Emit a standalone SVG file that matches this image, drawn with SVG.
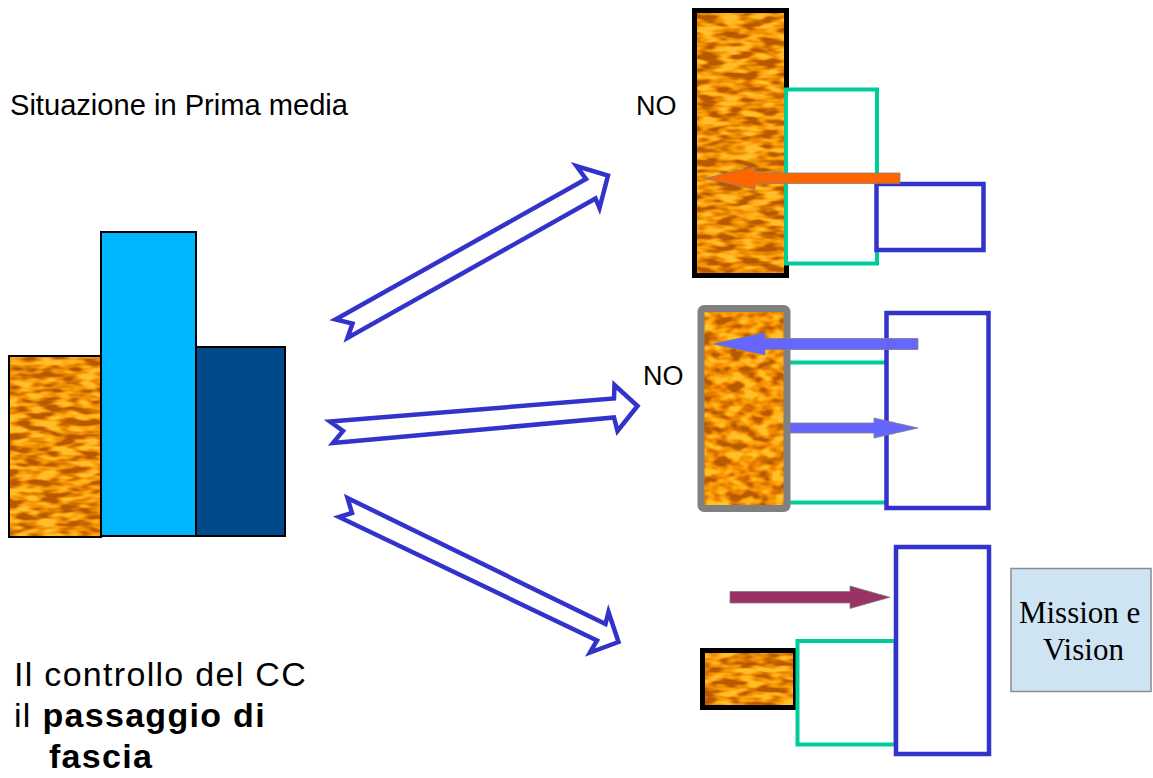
<svg xmlns="http://www.w3.org/2000/svg" width="1153" height="778" viewBox="0 0 1153 778">
  <defs>
    <!-- orange wood-like grain used to fill the textured blocks -->
    <filter id="grain" x="0" y="0" width="1" height="1" color-interpolation-filters="sRGB">
      <feTurbulence type="fractalNoise" baseFrequency="0.05 0.15" numOctaves="2" seed="7"/>
      <feColorMatrix type="matrix" values="2.8 0 0 0 -0.9  2.8 0 0 0 -0.9  2.8 0 0 0 -0.9  0 0 0 0 1"/>
      <feComponentTransfer>
        <feFuncR type="table" tableValues="0.72 0.80 0.90 0.97 1 1"/>
        <feFuncG type="table" tableValues="0.35 0.42 0.52 0.60 0.68 0.75"/>
        <feFuncB type="table" tableValues="0 0 0 0.03 0.10 0.18"/>
      </feComponentTransfer>
    </filter>
    <filter id="grain2" x="0" y="0" width="1" height="1" color-interpolation-filters="sRGB">
      <feTurbulence type="fractalNoise" baseFrequency="0.07 0.12" numOctaves="2" seed="21"/>
      <feColorMatrix type="matrix" values="2.6 0 0 0 -0.8  2.6 0 0 0 -0.8  2.6 0 0 0 -0.8  0 0 0 0 1"/>
      <feComponentTransfer>
        <feFuncR type="table" tableValues="0.72 0.84 0.93 0.98 1 1"/>
        <feFuncG type="table" tableValues="0.36 0.44 0.52 0.60 0.68 0.76"/>
        <feFuncB type="table" tableValues="0 0 0 0.02 0.08 0.16"/>
      </feComponentTransfer>
    </filter>
    <style>
      .txt { font-family: "Liberation Sans", Arial, sans-serif; fill: #000; }
      .serif { font-family: "Liberation Serif", "Times New Roman", serif; fill: #000; }
      .bar { stroke: #000; stroke-width: 2; }
      .wood { filter: url(#grain); }
      .wood2 { filter: url(#grain2); }
      .green { fill: #fff; stroke: #00cc99; stroke-width: 4; }
      .blue { fill: #fff; stroke: #3333cc; stroke-width: 4.5; }
      .block { fill: #fff; stroke: #3333cc; stroke-width: 4.5; stroke-linejoin: miter; }
      .flat { stroke: #808080; stroke-width: 0.8; }
    </style>
  </defs>

  <rect width="1153" height="778" fill="#fff"/>

  <!-- title -->
  <g id="title">
    <text class="txt" x="10" y="115" font-size="30" textLength="338" lengthAdjust="spacingAndGlyphs">Situazione in Prima media</text>
  </g>

  <!-- bar chart on the left -->
  <g id="chart">
    <rect class="wood" x="9" y="356" width="92" height="181" fill="#e08a10"/>
    <rect class="bar" x="9" y="356" width="92" height="181" fill="none"/>
    <rect class="bar" x="101" y="232" width="95" height="304" fill="#00b6ff"/>
    <rect class="bar" x="196" y="347" width="89" height="189" fill="#004a8c"/>
  </g>

  <!-- bottom-left caption -->
  <g id="caption" class="txt" font-size="34" letter-spacing="1.3">
    <text x="14" y="686">Il controllo del CC</text>
    <text x="14" y="727">il <tspan font-weight="bold">passaggio di</tspan></text>
    <text x="49" y="768" font-weight="bold">fascia</text>
  </g>

  <!-- block arrows from the chart to the three scenarios -->
  <g id="connectors">
    <polygon class="block" points="335.5,319.5 586,179 576.5,166 608,175.5 599.5,208 595.5,198.5 347.5,338 352.5,323.5"/>
    <polygon class="block" points="330,421.5 614,398.5 614.5,385 637.5,406 617.5,431 614,417.5 333,443 343,431"/>
    <polygon class="block" points="347.5,498 605.5,624 608.5,612 618.5,642 590,652.5 597,640.5 339,517 352,513"/>
  </g>

  <!-- scenario 1 -->
  <g id="scenario-top">
    <rect class="wood" x="694.5" y="10.5" width="92" height="265" fill="#e08a10"/>
    <rect x="694.5" y="10.5" width="92" height="265" fill="none" stroke="#000" stroke-width="5"/>
    <rect class="green" x="786" y="89.5" width="91" height="174"/>
    <rect class="blue" x="876.5" y="184" width="107" height="66"/>
    <polygon class="flat" fill="#ff6600" points="900,173 755,173 755,167 705,178.3 755,189.5 755,183.5 900,183.5"/>
    <text class="txt" x="636" y="114.5" font-size="27">NO</text>
  </g>

  <!-- scenario 2 -->
  <g id="scenario-middle">
    <rect class="green" x="787" y="362.5" width="100" height="140"/>
    <rect class="wood2" x="701" y="308.5" width="86" height="200" fill="#e08a10"/>
    <rect x="701" y="308.5" width="86" height="200" rx="3" fill="none" stroke="#808080" stroke-width="7"/>
    <rect class="blue" x="886.5" y="313" width="102" height="195"/>
    <polygon class="flat" fill="#6666ff" points="918,338.5 765,338.5 765,332.5 713,344 765,355 765,349.5 918,349.5"/>
    <polygon class="flat" fill="#6666ff" points="790,423 874,423 874,418 918,428 874,438 874,433 790,433"/>
    <text class="txt" x="643" y="384.5" font-size="27">NO</text>
  </g>

  <!-- scenario 3 -->
  <g id="scenario-bottom">
    <polygon class="flat" fill="#993366" points="730,591.5 850,591.5 850,586 890,597.3 850,608.5 850,603 730,603"/>
    <rect class="wood" x="702.5" y="650.5" width="93" height="57" fill="#e08a10"/>
    <rect x="702.5" y="650.5" width="93" height="57" fill="none" stroke="#000" stroke-width="5"/>
    <rect class="green" x="797.5" y="641" width="98" height="103.5"/>
    <rect class="blue" x="896" y="547" width="93" height="207"/>
  </g>

  <!-- mission and vision box -->
  <g id="mission">
    <rect x="1011" y="568.5" width="140" height="123" fill="#cfe4f3" stroke="#8c8c8c" stroke-width="1.5"/>
    <text class="serif" font-size="31" text-anchor="middle">
      <tspan x="1083.5" y="623">Mission e</tspan>
      <tspan x="1083.5" y="659.5">Vision</tspan>
    </text>
  </g>
</svg>
